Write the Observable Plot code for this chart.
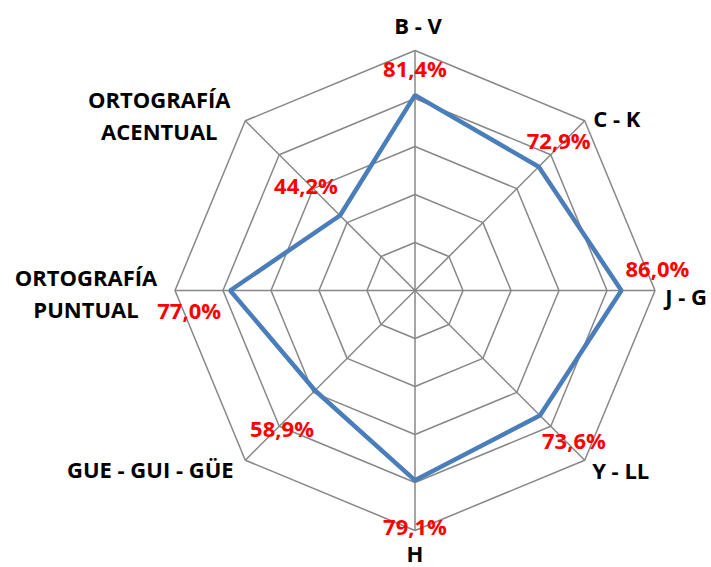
<!DOCTYPE html>
<html>
<head>
<meta charset="utf-8">
<script src="https://cdn.jsdelivr.net/npm/d3@7"></script>
<script src="https://cdn.jsdelivr.net/npm/@observablehq/plot@0.6"></script>
<style>
  html, body { margin: 0; padding: 0; background: #ffffff; }
  #chart svg { display: block; }
</style>
</head>
<body>
<div id="chart"></div>
<script>
// ---- data ----
const categories = ["B - V", "C - K", "J - G", "Y - LL", "H", "GUE - GUI - GÜE", "ORTOGRAFÍA\nPUNTUAL", "ORTOGRAFÍA\nACENTUAL"];
const values = [81.4, 72.9, 86.0, 73.6, 79.1, 58.9, 77.0, 44.2];
const ringLevels = [20, 40, 60, 80, 100];
const maxValue = 100;

// ---- layout (pixel offsets for labels) ----
const catOffsets = [[3, -27], [32, -4], [31, 4], [36, 9], [0, 21], [-95, 8], [-89, 1], [-86, -7]];
const valOffsets = [[0, -28], [20, -28], [36, -24], [34, 23], [0, 44], [-33, 36], [-41, 18], [-34, -32]];

const n = categories.length;
const ang = i => i * 2 * Math.PI / n;
const px = (r, i) => r * Math.sin(ang(i));
const py = (r, i) => r * Math.cos(ang(i));

const rings = ringLevels.flatMap(level => categories.map((c, i) => ({level, x: px(level, i), y: py(level, i)})));
const spokes = categories.map((c, i) => ({x: px(maxValue, i), y: py(maxValue, i)}));
const series = values.map((v, i) => ({category: categories[i], value: v, x: px(v, i), y: py(v, i), i}));
const catLabels = categories.map((c, i) => ({text: c, x: px(maxValue, i), y: py(maxValue, i), dx: catOffsets[i][0], dy: catOffsets[i][1]}));
const valLabels = series.map((d, i) => ({text: d.value.toFixed(1).replace(".", ",") + "%", x: d.x, y: d.y, dx: valOffsets[i][0], dy: valOffsets[i][1]}));

const W = 711, H = 567, cx = 414.5, cy = 290, R = 240;
const k = R / maxValue;

const font = "'Open Sans', 'DejaVu Sans', sans-serif";
const textMarks = (arr, fill) => arr.map(d => Plot.text([d], {
  x: "x", y: "y", text: "text", dx: d.dx, dy: d.dy,
  fill, fontWeight: "bold", fontSize: 22, lineHeight: 1.45, textAnchor: "middle"
}));

const chart = Plot.plot({
  width: W, height: H, margin: 0,
  x: {domain: [-cx / k, (W - cx) / k], axis: null},
  y: {domain: [-(H - cy) / k, cy / k], axis: null},
  style: {fontFamily: font, background: "#ffffff", overflow: "visible"},
  marks: [
    Plot.line(rings, {x: "x", y: "y", z: "level", curve: "linear-closed", stroke: "#878787", strokeWidth: 1.5}),
    Plot.link(spokes, {x1: 0, y1: 0, x2: "x", y2: "y", stroke: "#878787", strokeWidth: 1.5}),
    Plot.line(series, {x: "x", y: "y", curve: "linear-closed", stroke: "#4a7ebb", strokeWidth: 4.5, strokeLinejoin: "miter"}),
    ...textMarks(catLabels, "#000000"),
    ...textMarks(valLabels, "#ff0000")
  ]
});
document.getElementById("chart").appendChild(chart);
</script>
</body>
</html>
